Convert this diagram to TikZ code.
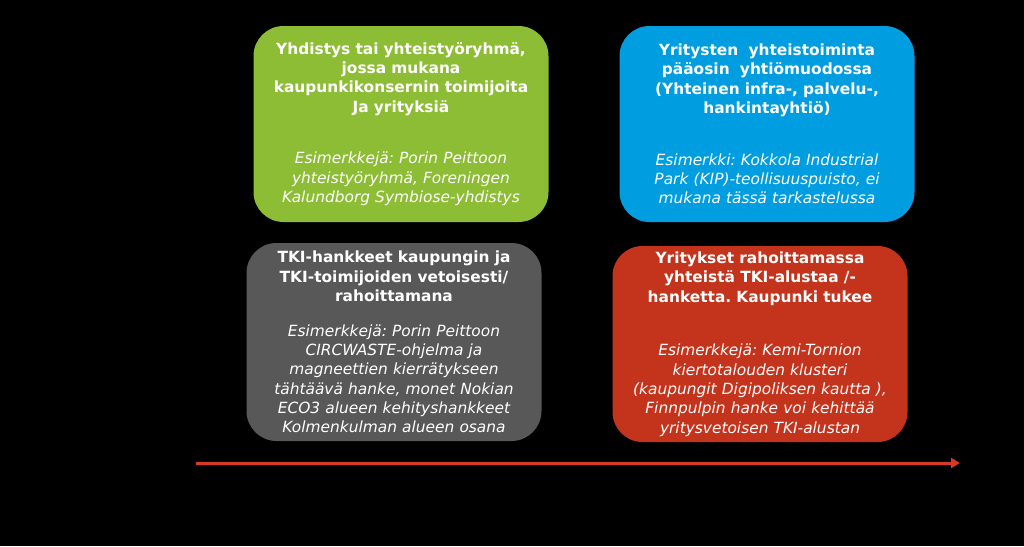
\documentclass[tikz,border=0pt]{standalone}
\usepackage{fontspec}
\setmainfont{DejaVu Sans}
\frenchspacing
\usetikzlibrary{arrows.meta}
\definecolor{boxgreen}{RGB}{141,189,52}
\definecolor{boxblue}{RGB}{0,158,224}
\definecolor{boxgray}{RGB}{88,88,88}
\definecolor{boxred}{RGB}{196,52,28}
\definecolor{arrowred}{RGB}{214,58,36}

\begin{document}
\begin{tikzpicture}[x=1pt, y=-1pt,
    box/.style={rectangle, rounded corners=30pt, inner sep=0pt, text=white,
        minimum width=295pt, minimum height=196pt, text width=290pt, align=center,
        font=\fontsize{15.4}{19.3}\selectfont}]
            \fill[black] (0,0) rectangle (1024,546);
            \node[box, fill=boxgreen] (yhdistys) at (401,124) {{\bfseries Yhdistys tai yhteistyöryhmä,\\ jossa mukana\\ kaupunkikonsernin toimijoita\\ Ja yrityksiä}\\[32.5pt]
                {\itshape Esimerkkejä: Porin Peittoon\\ yhteistyöryhmä, Foreningen\\ Kalundborg Symbiose-yhdistys}};
            \node[box, fill=boxblue] (yritykset) at (767,124) {{\bfseries Yritysten\ \ yhteistoiminta\\ pääosin\ \ yhtiömuodossa\\ (Yhteinen infra-, palvelu-,\\ hankintayhtiö)}\\[32.5pt]
                {\itshape Esimerkki: Kokkola Industrial\\ Park (KIP)-teollisuuspuisto, ei\\ mukana tässä tarkastelussa}};
            \node[box, fill=boxgray, minimum height=198pt] (hankkeet) at (394,342) {{\bfseries TKI-hankkeet kaupungin ja\\ TKI-toimijoiden vetoisesti/\\ rahoittamana}\\[15.5pt]
                {\itshape Esimerkkejä: Porin Peittoon\\ CIRCWASTE-ohjelma ja\\ magneettien kierrätykseen\\ tähtäävä hanke, monet Nokian\\ ECO3 alueen kehityshankkeet\\ Kolmenkulman alueen osana}};
            \node[box, fill=boxred] (rahoitus) at (760,344) {{\bfseries Yritykset rahoittamassa\\ yhteistä TKI-alustaa /-\\ hanketta. Kaupunki tukee}\\[34.5pt]
                {\itshape Esimerkkejä: Kemi-Tornion\\ kiertotalouden klusteri\\ (kaupungit Digipoliksen kautta ),\\ Finnpulpin hanke voi kehittää\\ yritysvetoisen TKI-alustan}};
            \coordinate (alku) at (196,463);
            \coordinate (loppu) at (960,463);
            \draw[arrowred, line width=3pt, -{Triangle[length=9pt, width=10pt]}] (alku) -- (loppu);
        \end{tikzpicture}
\end{document}
